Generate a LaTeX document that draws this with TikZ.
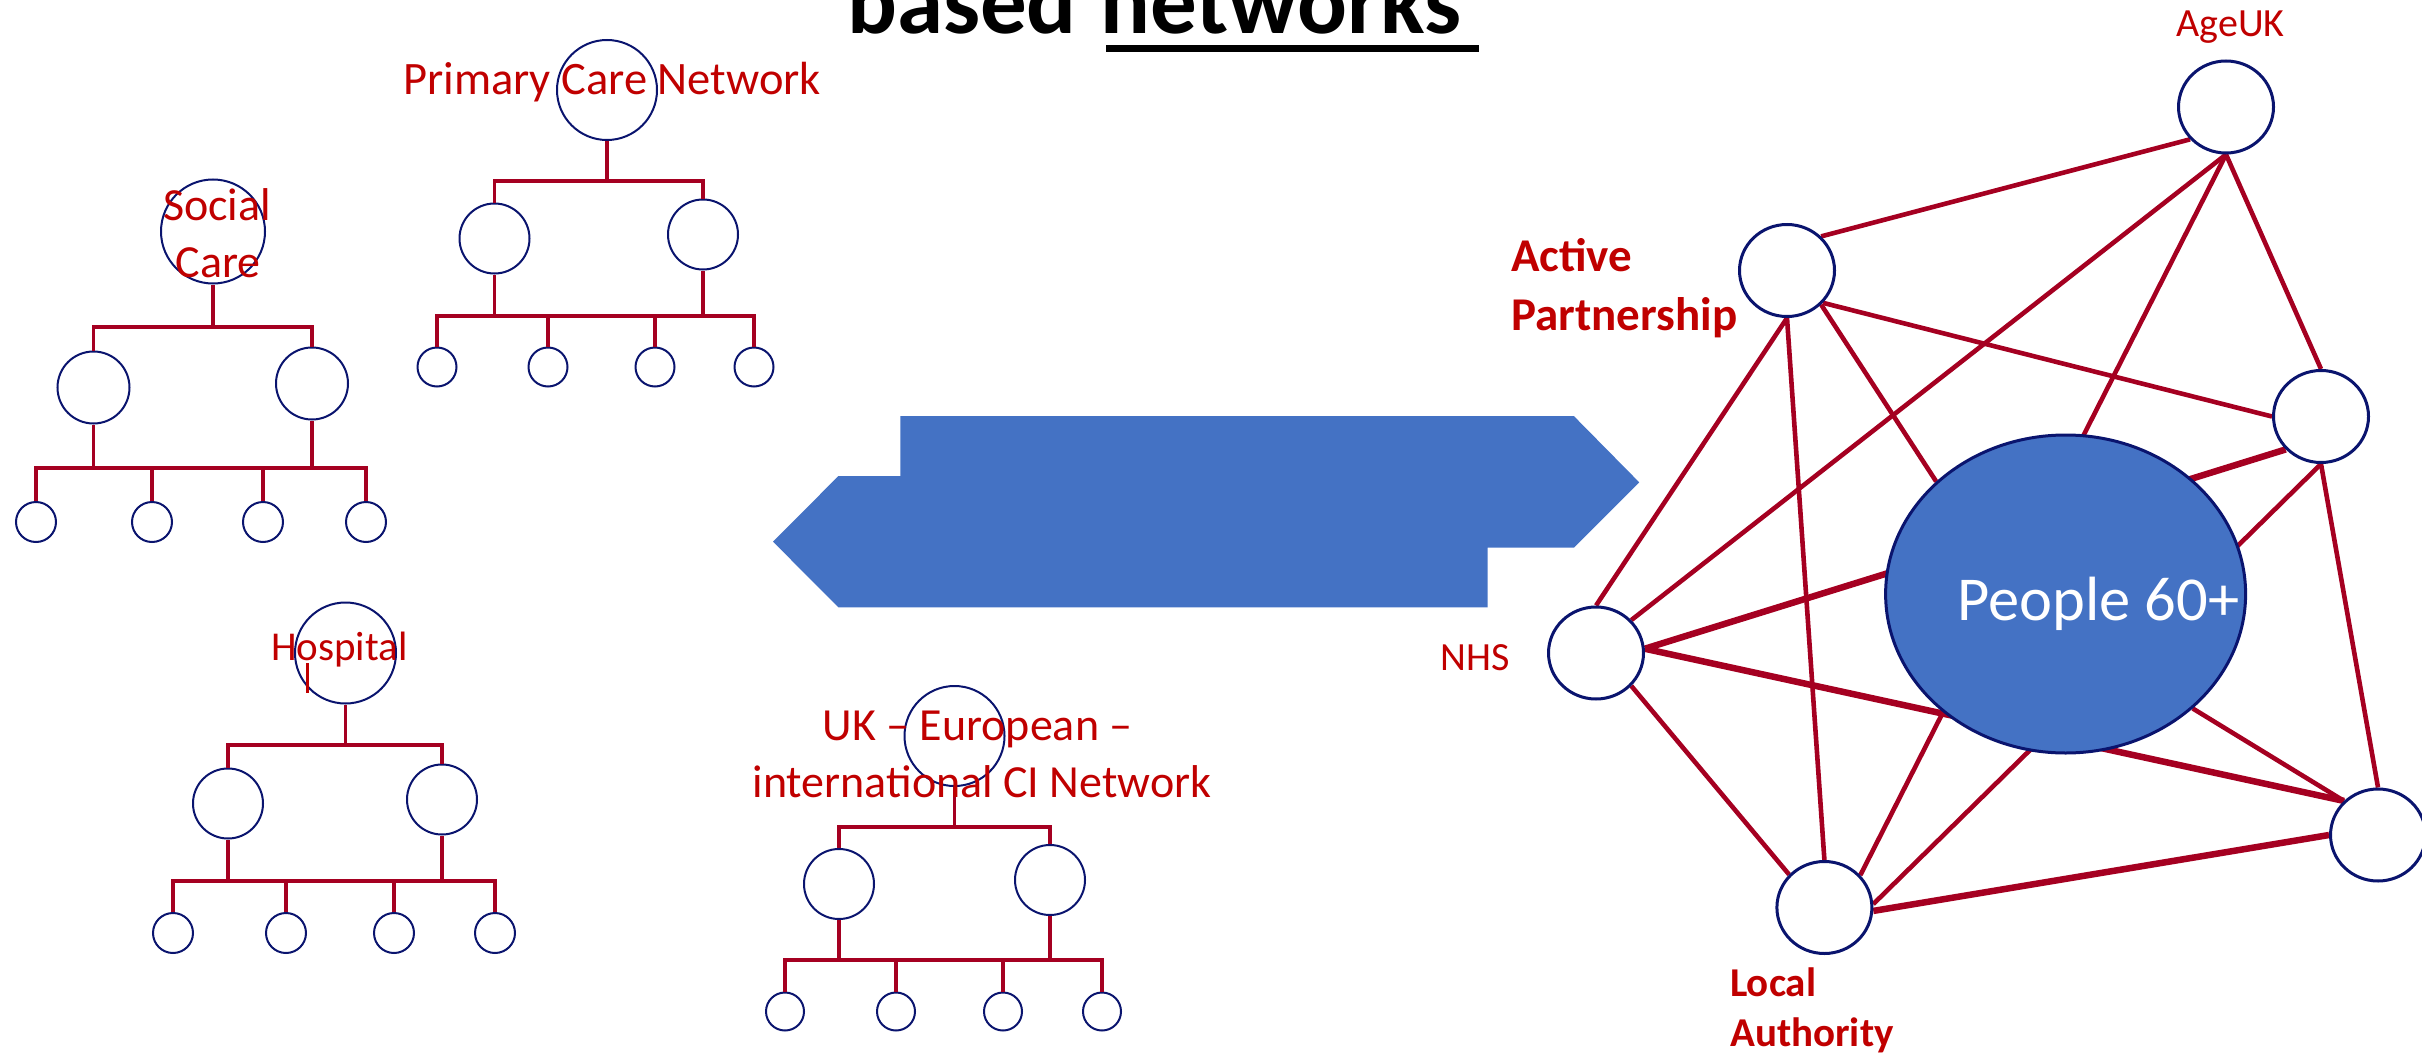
\documentclass[tikz,border=0pt]{standalone}
\usepackage{fontspec}
\setmainfont{Carlito}
\usetikzlibrary{shapes.geometric,backgrounds}
\definecolor{textred}{HTML}{C00000}
\definecolor{linered}{HTML}{A50021}
\definecolor{circnavy}{HTML}{0A146E}
\definecolor{boxblue}{HTML}{4472C4}
\newcommand\orgtree[1]{%
  \draw[treeline] (#1.south) -- (#1b);
  \draw[treeline] (#1L.north) |- (#1b) -| (#1R.north);
  \draw[treeline] (#1S1.north) |- (#1bb) -| (#1S4.north);
  \foreach \k in {S2,S3} {\draw[treeline] (#1\k.north) -- (#1\k.north |- #1bb);}
  \foreach \k in {L,R} {\draw[treeline] (#1\k.south) -- (#1\k.south |- #1bb);}
}
\begin{document}
\begin{tikzpicture}[x=1pt,y=-1pt,
  treecirc/.style={circle, draw=circnavy, line width=2, inner sep=0},
  smallc/.style={treecirc, minimum size=39},
  midc/.style={treecirc, minimum size=70},
  rootc/.style={treecirc, minimum size=101},
  treeline/.style={draw=linered, line width=3.5},
  netnode/.style={ellipse, draw=circnavy, line width=3, fill=white, minimum width=95, minimum height=92, inner sep=0},
  link/.style={draw=linered, line width=4.6},
  thicklink/.style={draw=linered, line width=6.5},
  lab/.style={text=textred, inner sep=0, anchor=base},
  blab/.style={text=textred, inner sep=0, anchor=base west, font=\bfseries}
]
\useasboundingbox (0,0) rectangle (2422,1054);

% title
\node[anchor=base west, inner sep=0, font=\bfseries\fontsize{93}{110}\selectfont] (t1) at (847,34) {based};
\node[anchor=base west, inner sep=0, font=\bfseries\fontsize{93}{110}\selectfont] (t2) at (1100,34) {networks};
\fill (1106,45) rectangle (1479,51.7);

% blue double arrow
\fill[boxblue] (900.4,416) -- (1573.8,416) -- (1639.2,482.3) -- (1573.8,547.7) -- (1487.7,547.7)
  -- (1487.7,607.3) -- (838.4,607.3) -- (773,541.7) -- (838.4,476) -- (900.4,476) -- cycle;

% Primary Care Network tree
\node[rootc, minimum size=100] (p) at (607,90) {};
\coordinate (pb) at (607,181);
\node[midc] (pL) at (494.5,238.5) {};
\node[midc] (pR) at (703,234.5) {};
\coordinate (pbb) at (600,316);
\node[smallc] (pS1) at (437,367) {};
\node[smallc] (pS2) at (548,367) {};
\node[smallc] (pS3) at (655,367) {};
\node[smallc] (pS4) at (754,367) {};
\orgtree{p}
\node[lab, font=\fontsize{46.5}{56}\selectfont] (pText) at (612,95) {Primary Care Network};

% Social Care tree
\node[rootc, minimum size=104] (s) at (213,231.5) {};
\coordinate (sb) at (213,327);
\node[midc, minimum size=72] (sL) at (93.5,387.5) {};
\node[midc, minimum size=72] (sR) at (312,383.5) {};
\coordinate (sbb) at (200,468);
\node[smallc, minimum size=40] (sS1) at (36,522) {};
\node[smallc, minimum size=40] (sS2) at (152,522) {};
\node[smallc, minimum size=40] (sS3) at (263,522) {};
\node[smallc, minimum size=40] (sS4) at (366,522) {};
\orgtree{s}
\node[lab, font=\fontsize{46}{56}\selectfont] (sText1) at (217,220) {Social};
\node[lab, font=\fontsize{46}{56}\selectfont] (sText2) at (218,277) {Care};

% Hospital tree
\node[rootc] (h) at (345.5,653) {};
\coordinate (hb) at (345.5,745);
\node[midc] (hL) at (228,803.5) {};
\node[midc] (hR) at (442,799.5) {};
\coordinate (hbb) at (330,881);
\node[smallc, minimum size=40] (hS1) at (173,933) {};
\node[smallc, minimum size=40] (hS2) at (286,933) {};
\node[smallc, minimum size=40] (hS3) at (394,933) {};
\node[smallc, minimum size=40] (hS4) at (495,933) {};
\orgtree{h}
\node[lab, font=\fontsize{41}{50}\selectfont] (hText) at (339.5,660) {Hospital};
\draw[textred, line width=3] (307,663) -- (307,693);

% UK - European tree
\node[rootc, minimum size=100] (u) at (954.5,736) {};
\coordinate (ub) at (954.5,827);
\node[midc] (uL) at (839,884) {};
\node[midc] (uR) at (1050,880) {};
\coordinate (ubb) at (950,960);
\node[smallc, minimum size=38] (uS1) at (785,1011.5) {};
\node[smallc, minimum size=38] (uS2) at (896,1011.5) {};
\node[smallc, minimum size=38] (uS3) at (1003,1011.5) {};
\node[smallc, minimum size=38] (uS4) at (1102,1011.5) {};
\orgtree{u}
\node[lab, font=\fontsize{46}{56}\selectfont] (uText1) at (977.5,740) {UK – European –};
\node[lab, font=\fontsize{46}{56}\selectfont] (uText2) at (982,797) {international CI Network};

% right network
\node[netnode] (A) at (2226,107) {};
\node[netnode] (P) at (1787,270.5) {};
\node[netnode] (R) at (2321,416.5) {};
\node[ellipse, draw=circnavy, line width=3, fill=boxblue, minimum width=360, minimum height=318, inner sep=0] (C) at (2065.6,594) {};
\node[netnode] (N) at (1596,653) {};
\node[netnode] (L) at (1824.4,907.5) {};
\node[netnode] (B) at (2378,835) {};

\begin{scope}[on background layer]
\draw[link] (A.222) -- (P.45);
\draw[link] (A.south) -- (N.43);
\draw[link] (A.south) -- (L.42);
\draw[link] (A.south) -- (R.north);
\draw[link] (P.318) -- (R.west);
\draw[link] (P.south) -- (N.north);
\draw[link] (P.south) -- (L.north);
\draw[link] (P.315) -- (C.139);
\draw[thicklink] (R.223) -- (N.5);
\draw[link] (R.south) -- (L.4);
\draw[link] (R.south) -- (B.north);
\draw[thicklink] (N.5) -- (B.135);
\draw[link] (C.318) -- (B.135);
\draw[link] (N.317) -- (L.137);
\draw[thicklink] (L.356) -- (B.west);
\end{scope}

\node[anchor=base west, inner sep=0, text=white, font=\fontsize{62.5}{75}\selectfont] (CText) at (1957,620) {People 60+};
\node[lab, font=\fontsize{40}{48}\selectfont] (AText) at (2230.5,37) {AgeUK};
\node[lab, font=\fontsize{40}{48}\selectfont] (NText) at (1475,670.7) {NHS};
\node[blab, font=\bfseries\fontsize{47}{57}\selectfont] (PText1) at (1511,271.7) {Active};
\node[blab, font=\bfseries\fontsize{47}{57}\selectfont] (PText2) at (1511,330) {Partnership};
\node[blab, font=\bfseries\fontsize{41}{50}\selectfont] (LText1) at (1730,996.5) {Local};
\node[blab, font=\bfseries\fontsize{41}{50}\selectfont] (LText2) at (1730,1046) {Authority};
\end{tikzpicture}
\end{document}
